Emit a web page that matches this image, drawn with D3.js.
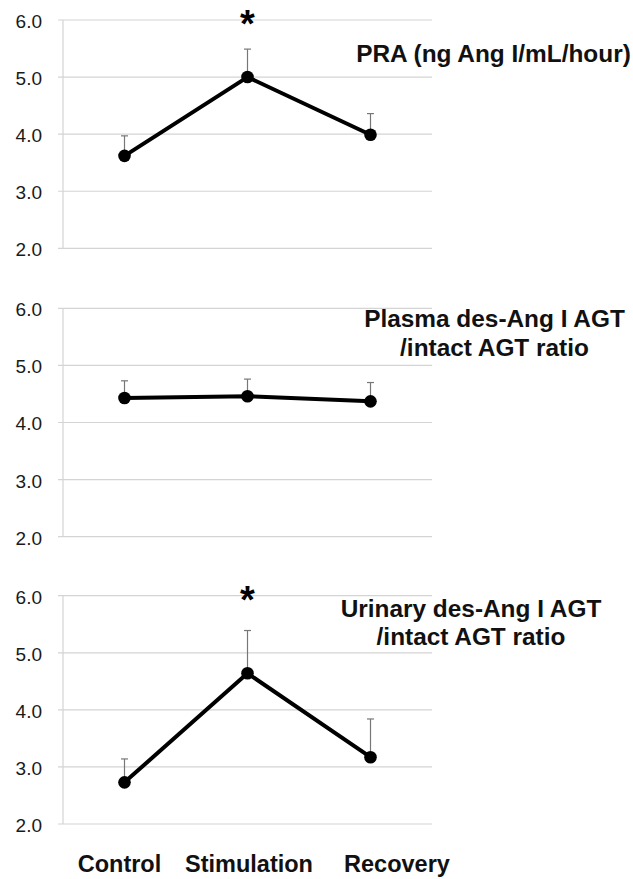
<!DOCTYPE html>
<html>
<head>
<meta charset="utf-8">
<script src="https://cdn.jsdelivr.net/npm/d3@7"></script>
<style>
  html, body { margin: 0; padding: 0; background: #fff; }
  svg { display: block; }
  text { font-family: "Liberation Sans", Arial, Helvetica, sans-serif; }
</style>
</head>
<body>
<svg id="chart" width="633" height="879"></svg>
<script>
// ---- Data ----
const categories = ["Control", "Stimulation", "Recovery"];
const yTicks = [2.0, 3.0, 4.0, 5.0, 6.0];

const praMean = [3.62, 5.00, 3.99];
const praSE = [0.35, 0.49, 0.37];
const praSig = [false, true, false];
const praTitle = ["PRA (ng Ang I/mL/hour)"];

const plasmaMean = [4.43, 4.46, 4.37];
const plasmaSE = [0.30, 0.30, 0.33];
const plasmaSig = [false, false, false];
const plasmaTitle = ["Plasma des-Ang I AGT", "/intact AGT ratio"];

const urinaryMean = [2.73, 4.64, 3.17];
const urinarySE = [0.41, 0.75, 0.67];
const urinarySig = [false, true, false];
const urinaryTitle = ["Urinary des-Ang I AGT", "/intact AGT ratio"];

// ---- Layout ----
const svg = d3.select("#chart");
const plotLeft = 63, plotRight = 432;
const panels = [
  { top: 20,    bottom: 248.3, mean: praMean,     se: praSE,     sig: praSig,     title: praTitle,     tx: 493.5, ty: 62 },
  { top: 308.3, bottom: 536.7, mean: plasmaMean,  se: plasmaSE,  sig: plasmaSig,  title: plasmaTitle,  tx: 494.5, ty: 327 },
  { top: 595.7, bottom: 824,   mean: urinaryMean, se: urinarySE, sig: urinarySig, title: urinaryTitle, tx: 471, ty: 616.5 }
];

const x = d3.scaleBand().domain(categories).range([plotLeft, plotRight]).padding(0);
const cx = c => x(c) + x.bandwidth() / 2;

panels.forEach(p => {
  const y = d3.scaleLinear().domain([2, 6]).range([p.bottom, p.top]);
  const g = svg.append("g");

  // gridlines, axis line, tick labels
  const gridG = g.append("g");
  gridG.selectAll("line.grid").data(yTicks).join("line")
    .attr("x1", plotLeft - 5).attr("x2", plotRight)
    .attr("y1", d => y(d)).attr("y2", d => y(d))
    .attr("stroke", "#d4d4d4").attr("stroke-width", 1.2);
  gridG.append("line")
    .attr("x1", plotLeft).attr("x2", plotLeft)
    .attr("y1", y(6)).attr("y2", y(2))
    .attr("stroke", "#d4d4d4").attr("stroke-width", 1.2);
  gridG.selectAll("text.tick").data(yTicks).join("text")
    .attr("x", 42).attr("y", d => y(d)).attr("dy", "0.42em")
    .attr("text-anchor", "end")
    .attr("font-size", 19).attr("fill", "#1a1a1a")
    .text(d => d3.format(".1f")(d));

  // error bars (upper only)
  const eb = g.append("g");
  categories.forEach((c, i) => {
    const top = y(p.mean[i] + p.se[i]);
    eb.append("line").attr("x1", cx(c)).attr("x2", cx(c))
      .attr("y1", y(p.mean[i])).attr("y2", top)
      .attr("stroke", "#777").attr("stroke-width", 1.2);
    eb.append("line").attr("x1", cx(c) - 3.5).attr("x2", cx(c) + 3.5)
      .attr("y1", top).attr("y2", top)
      .attr("stroke", "#777").attr("stroke-width", 1.2);
  });

  // line
  const line = d3.line().x((d, i) => cx(categories[i])).y(d => y(d));
  g.append("path").datum(p.mean).attr("d", line)
    .attr("fill", "none").attr("stroke", "#000").attr("stroke-width", 4)
    .attr("stroke-linejoin", "round");

  // markers
  g.selectAll("circle").data(p.mean).join("circle")
    .attr("cx", (d, i) => cx(categories[i])).attr("cy", d => y(d))
    .attr("r", 6.3).attr("fill", "#000");

  // significance asterisks
  g.selectAll("text.sig").data(categories.filter((c, i) => p.sig[i])).join("text")
    .attr("class", "sig")
    .attr("x", c => cx(c)).attr("y", p.top + 17)
    .attr("text-anchor", "middle").attr("font-weight", "bold")
    .attr("font-size", 38).attr("fill", "#000")
    .text("*");

  // title
  g.append("text").attr("x", p.tx).attr("y", p.ty)
    .attr("text-anchor", "middle").attr("font-weight", "bold")
    .attr("font-size", 24.4).attr("fill", "#111")
    .selectAll("tspan").data(p.title).join("tspan")
    .attr("x", p.tx).attr("dy", (d, i) => i === 0 ? 0 : 28.5)
    .text(d => d);
});

// x category labels
const labelOffsets = [-5, 1.5, 26.5];
svg.append("g").selectAll("text").data(categories).join("text")
  .attr("x", (c, i) => cx(c) + labelOffsets[i]).attr("y", 871.5)
  .attr("text-anchor", "middle").attr("font-weight", "bold")
  .attr("font-size", 23.5).attr("fill", "#111")
  .text(d => d);
</script>
</body>
</html>
